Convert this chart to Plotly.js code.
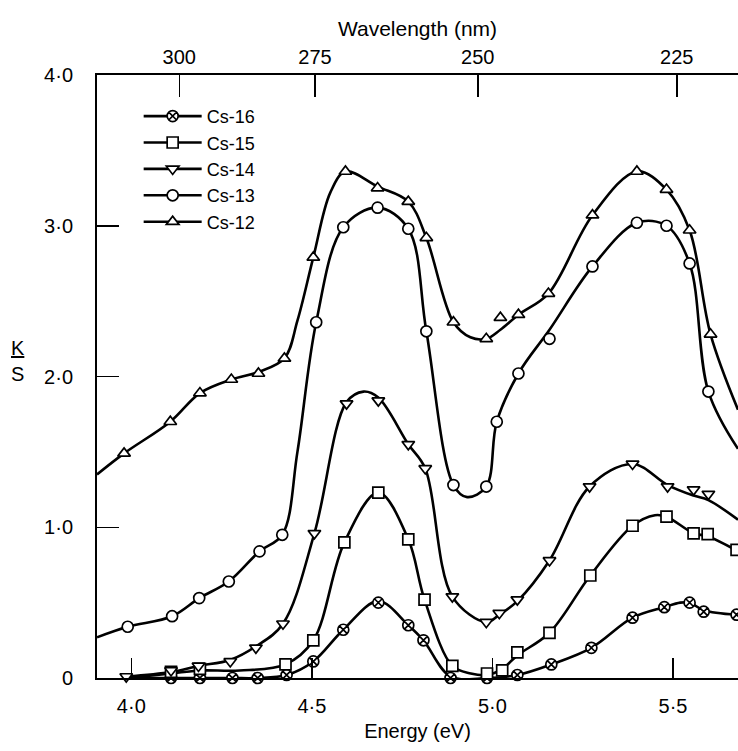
<!DOCTYPE html>
<html>
<head>
<meta charset="utf-8">
<script src="https://cdn.plot.ly/plotly-3.0.1.min.js"></script>
<style>html,body{margin:0;padding:0;background:#fff;}#chart{width:738px;height:751px;}</style>
</head>
<body>
<div id="chart"></div>
<script>
// ---------- data ----------
const seriesNames = ['Cs-16', 'Cs-15', 'Cs-14', 'Cs-13', 'Cs-12'];

// measured points (markers)
const cs16_E = [4.11, 4.19, 4.28, 4.35, 4.43, 4.504, 4.587, 4.684, 4.767, 4.809, 4.884, 4.985, 5.069, 5.163, 5.274, 5.388, 5.476, 5.546, 5.585, 5.676];
const cs16_K = [0.0, 0.0, 0.0, 0.0, 0.02, 0.11, 0.32, 0.50, 0.35, 0.25, 0.0, 0.0, 0.02, 0.09, 0.20, 0.40, 0.47, 0.50, 0.44, 0.42];

const cs15_E = [4.11, 4.19, 4.427, 4.504, 4.59, 4.684, 4.767, 4.812, 4.889, 4.985, 5.027, 5.069, 5.158, 5.271, 5.388, 5.482, 5.557, 5.596, 5.676];
const cs15_K = [0.04, 0.06, 0.09, 0.25, 0.90, 1.23, 0.92, 0.52, 0.08, 0.03, 0.05, 0.17, 0.30, 0.68, 1.01, 1.07, 0.96, 0.955, 0.85];

const cs14_E = [3.986, 4.11, 4.186, 4.274, 4.345, 4.42, 4.507, 4.596, 4.684, 4.767, 4.814, 4.889, 4.983, 5.019, 5.069, 5.158, 5.269, 5.388, 5.485, 5.557, 5.598];
const cs14_K = [0.01, 0.05, 0.08, 0.11, 0.20, 0.36, 0.96, 1.82, 1.84, 1.55, 1.39, 0.54, 0.37, 0.43, 0.52, 0.78, 1.27, 1.42, 1.27, 1.25, 1.22];

const cs13_E = [3.99, 4.113, 4.188, 4.27, 4.355, 4.418, 4.512, 4.587, 4.682, 4.767, 4.817, 4.892, 4.983, 5.012, 5.072, 5.158, 5.277, 5.40, 5.482, 5.546, 5.598];
const cs13_K = [0.34, 0.41, 0.53, 0.64, 0.84, 0.95, 2.36, 2.99, 3.12, 2.98, 2.30, 1.28, 1.27, 1.70, 2.02, 2.25, 2.73, 3.02, 3.00, 2.75, 1.90];

const cs12_E = [3.98, 4.108, 4.19, 4.277, 4.352, 4.424, 4.504, 4.593, 4.682, 4.767, 4.817, 4.892, 4.983, 5.022, 5.072, 5.155, 5.277, 5.40, 5.482, 5.546, 5.604];
const cs12_K = [1.49, 1.70, 1.89, 1.98, 2.02, 2.12, 2.79, 3.36, 3.25, 3.16, 2.92, 2.36, 2.25, 2.39, 2.41, 2.55, 3.07, 3.36, 3.24, 2.97, 2.28];

// hand-drawn smooth curves
const cs16_curveE = [4.0, 4.11, 4.19, 4.28, 4.35, 4.43, 4.504, 4.587, 4.684, 4.767, 4.809, 4.884, 4.985, 5.069, 5.163, 5.274, 5.388, 5.476, 5.52, 5.546, 5.585, 5.676];
const cs16_curveK = [0.0, 0.0, 0.0, 0.0, 0.0, 0.02, 0.11, 0.32, 0.51, 0.35, 0.25, 0.01, 0.0, 0.02, 0.09, 0.20, 0.40, 0.47, 0.50, 0.50, 0.45, 0.42];

const cs15_curveE = [3.99, 4.11, 4.19, 4.30, 4.427, 4.504, 4.59, 4.684, 4.767, 4.812, 4.889, 4.94, 4.985, 5.027, 5.069, 5.158, 5.271, 5.388, 5.45, 5.482, 5.557, 5.596, 5.68];
const cs15_curveK = [0.0, 0.03, 0.05, 0.05, 0.09, 0.25, 0.90, 1.23, 0.92, 0.52, 0.08, 0.03, 0.02, 0.06, 0.15, 0.30, 0.68, 1.01, 1.08, 1.07, 0.96, 0.94, 0.84];

const cs14_curveE = [3.986, 4.11, 4.186, 4.274, 4.345, 4.42, 4.507, 4.596, 4.643, 4.684, 4.767, 4.814, 4.889, 4.983, 5.019, 5.069, 5.158, 5.269, 5.388, 5.485, 5.557, 5.598, 5.68];
const cs14_curveK = [0.01, 0.04, 0.08, 0.12, 0.21, 0.36, 0.96, 1.83, 1.90, 1.86, 1.55, 1.39, 0.54, 0.37, 0.42, 0.51, 0.78, 1.27, 1.42, 1.28, 1.21, 1.18, 1.05];

const cs13_curveE = [3.905, 3.99, 4.113, 4.188, 4.27, 4.355, 4.418, 4.46, 4.512, 4.587, 4.682, 4.767, 4.817, 4.892, 4.93, 4.983, 5.012, 5.072, 5.158, 5.277, 5.40, 5.482, 5.546, 5.598, 5.68];
const cs13_curveK = [0.27, 0.34, 0.41, 0.53, 0.64, 0.84, 0.95, 1.50, 2.36, 2.99, 3.12, 2.98, 2.30, 1.28, 1.20, 1.27, 1.70, 2.02, 2.31, 2.73, 3.02, 3.00, 2.75, 1.90, 1.52];

const cs12_curveE = [3.905, 3.98, 4.108, 4.19, 4.277, 4.352, 4.424, 4.46, 4.504, 4.551, 4.593, 4.682, 4.767, 4.817, 4.892, 4.939, 4.983, 5.022, 5.072, 5.155, 5.277, 5.40, 5.482, 5.546, 5.604, 5.68];
const cs12_curveK = [1.35, 1.49, 1.70, 1.89, 1.98, 2.03, 2.12, 2.37, 2.79, 3.22, 3.36, 3.26, 3.16, 2.92, 2.36, 2.26, 2.25, 2.31, 2.41, 2.55, 3.07, 3.36, 3.24, 2.97, 2.28, 1.78];

// axis ticks
const energyTicks = [4.0, 4.5, 5.0, 5.5];
const energyTickText = ['4·0', '4·5', '5·0', '5·5'];
const ksTicks = [0, 1, 2, 3, 4];
const ksTickText = ['0', '1·0', '2·0', '3·0', '4·0'];
const wavelengthTicks = [300, 275, 250, 225];   // nm

// ---------- styling ----------
const FONT = 'Liberation Sans, Arial, sans-serif';
const symbols = {'Cs-16': 'circle-x', 'Cs-15': 'square', 'Cs-14': 'triangle-down', 'Cs-13': 'circle', 'Cs-12': 'triangle-up'};
const markerData = {
  'Cs-16': [cs16_E, cs16_K], 'Cs-15': [cs15_E, cs15_K], 'Cs-14': [cs14_E, cs14_K],
  'Cs-13': [cs13_E, cs13_K], 'Cs-12': [cs12_E, cs12_K]
};
const curveData = {
  'Cs-16': [cs16_curveE, cs16_curveK], 'Cs-15': [cs15_curveE, cs15_curveK], 'Cs-14': [cs14_curveE, cs14_curveK],
  'Cs-13': [cs13_curveE, cs13_curveK], 'Cs-12': [cs12_curveE, cs12_curveK]
};
const xRange = [3.905, 5.68];
const LW = 2.6;
const MS = 11;

const traces = [];
seriesNames.forEach(name => {
  traces.push({
    x: curveData[name][0], y: curveData[name][1], mode: 'lines', type: 'scatter',
    line: {color: '#000', width: LW, shape: 'spline', smoothing: 1},
    showlegend: false, hoverinfo: 'skip', cliponaxis: true
  });
});
seriesNames.forEach(name => {
  traces.push({
    x: markerData[name][0], y: markerData[name][1], mode: 'markers', type: 'scatter',
    marker: {symbol: symbols[name], size: MS, color: '#fff', line: {color: '#000', width: 1.7}},
    showlegend: false, cliponaxis: false
  });
});
// legend entries
seriesNames.forEach(name => {
  traces.push({
    x: [null], y: [null], mode: 'lines+markers', type: 'scatter', name: name,
    line: {color: '#000', width: LW},
    marker: {symbol: symbols[name], size: MS, color: '#fff', line: {color: '#000', width: 1.7}}
  });
});
// invisible trace to activate the top (wavelength) axis
traces.push({x: xRange, y: [null, null], xaxis: 'x2', mode: 'lines', showlegend: false, hoverinfo: 'skip'});

const layout = {
  width: 738, height: 751,
  margin: {l: 97, r: 0, t: 75, b: 73},
  paper_bgcolor: '#fff', plot_bgcolor: '#fff',
  font: {family: FONT, color: '#000', size: 20},
  showlegend: true,
  legend: {
    x: 0.065, y: 0.962, xanchor: 'left', yanchor: 'top',
    font: {family: FONT, size: 18, color: '#000'},
    bgcolor: 'rgba(0,0,0,0)', itemwidth: 58, traceorder: 'normal'
  },
  xaxis: {
    range: xRange, showgrid: false, zeroline: false,
    showline: true, linecolor: '#000', linewidth: 2,
    ticks: 'inside', ticklen: 20, tickwidth: 1.5, tickcolor: '#000',
    tickvals: energyTicks, ticktext: energyTickText,
    tickfont: {family: FONT, size: 20}, ticklabelstandoff: 9,
    title: {text: 'Energy (eV)', font: {family: FONT, size: 20}, standoff: 8}
  },
  xaxis2: {
    range: xRange, overlaying: 'x', side: 'top', anchor: 'y', showgrid: false, zeroline: false,
    showline: true, linecolor: '#000', linewidth: 2,
    ticks: 'inside', ticklen: 22, tickwidth: 1.5, tickcolor: '#000',
    tickvals: wavelengthTicks.map(l => 1239.84 / l), ticktext: wavelengthTicks.map(String),
    tickfont: {family: FONT, size: 20}, ticklabelstandoff: 1,
    title: {text: 'Wavelength (nm)', font: {family: FONT, size: 21}, standoff: 4}
  },
  yaxis: {
    range: [0, 4.0], showgrid: false, zeroline: false,
    showline: true, linecolor: '#000', linewidth: 2,
    ticks: 'inside', ticklen: 22, tickwidth: 1.5, tickcolor: '#000',
    tickvals: ksTicks, ticktext: ksTickText,
    tickfont: {family: FONT, size: 20}, ticklabelstandoff: 18
  },
  annotations: [{
    text: '<u>K</u><br>S', xref: 'paper', yref: 'paper', x: -0.123, y: 0.525,
    xanchor: 'center', yanchor: 'middle', showarrow: false,
    font: {family: FONT, size: 20, color: '#000'}
  }]
};

Plotly.newPlot('chart', traces, layout, {staticPlot: true, displayModeBar: false});
</script>
</body>
</html>
